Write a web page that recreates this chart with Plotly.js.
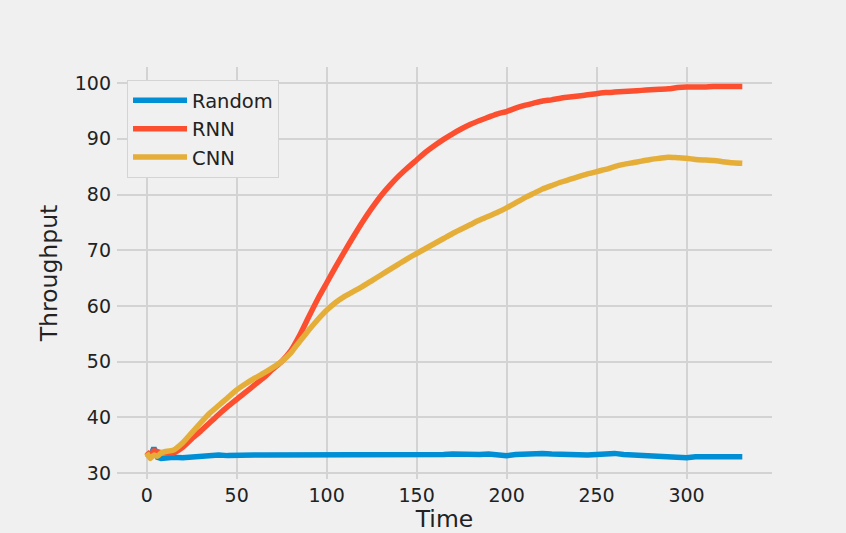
<!DOCTYPE html>
<html>
<head>
<meta charset="utf-8">
<script src="https://cdn.plot.ly/plotly-3.0.1.min.js"></script>
<style>html,body{margin:0;padding:0;background:#f0f0f0;}</style>
</head>
<body>
<div id="chart" style="width:846px;height:533px;"></div>
<script>
const time = [0,2,4,6,8,10,15,20,25,30,35,40,45,50,55,60,65,70,75,80,85,90,95,100,105,110,115,120,125,130,135,140,145,150,155,160,165,170,175,180,185,190,195,200,205,210,215,220,225,230,235,240,245,250,255,260,265,270,275,280,285,290,295,300,305,310,315,320,325,331];

const randomVals = [33.4,33.0,34.5,32.8,32.6,32.7,32.8,32.7,32.8,33.1,33.2,33.2,33.1,33.2,33.2,33.2,33.2,33.2,33.1,33.2,33.2,33.2,33.2,33.3,33.3,33.3,33.2,33.3,33.2,33.3,33.2,33.3,33.2,33.3,33.3,33.2,33.3,33.4,33.3,33.2,33.3,33.4,33.3,33.1,33.3,33.4,33.5,33.5,33.4,33.3,33.2,33.3,33.2,33.3,33.4,33.5,33.3,33.2,33.1,33.0,32.9,32.8,32.8,32.7,32.9,32.9,32.8,32.9,32.8,32.9];

const rnnVals = [33.8,33.2,34.0,33.8,33.6,33.6,33.6,34.6,36.1,37.5,39.0,40.5,41.9,43.2,44.5,45.8,47.1,48.6,50.0,51.9,54.7,58.0,61.2,64.1,67.0,69.8,72.5,75.1,77.5,79.7,81.6,83.3,84.8,86.2,87.6,88.8,89.9,90.9,91.8,92.6,93.3,93.9,94.5,94.9,95.5,96.0,96.4,96.8,97.0,97.3,97.5,97.7,97.9,98.1,98.3,98.4,98.5,98.6,98.7,98.8,98.9,99.0,99.2,99.3,99.3,99.3,99.4,99.4,99.4,99.4];

const cnnVals = [33.6,32.6,33.2,33.0,33.6,33.8,34.1,35.4,37.2,39.0,40.7,42.1,43.5,44.9,46.0,47.0,47.9,48.9,50.0,51.5,53.6,55.6,57.5,59.2,60.6,61.7,62.6,63.5,64.5,65.5,66.5,67.5,68.5,69.4,70.3,71.2,72.1,73.0,73.8,74.6,75.4,76.1,76.8,77.6,78.5,79.4,80.2,81.0,81.6,82.2,82.7,83.2,83.7,84.1,84.5,85.0,85.4,85.7,86.0,86.3,86.5,86.7,86.6,86.5,86.3,86.2,86.1,85.9,85.7,85.6];

const seriesNames = ["Random","RNN","CNN"];
const seriesColors = ["#008fd5","#fc4f30","#e5ae38"];
const xTicks = [0,50,100,150,200,250,300];
const yTicks = [30,40,50,60,70,80,90,100];

const allVals = [randomVals, rnnVals, cnnVals];
const traces = allVals.map((v,i)=>({
  x: time, y: v, type:'scatter', mode:'lines', name: seriesNames[i],
  line:{color: seriesColors[i], width:5.5, shape: i===0 ? 'linear' : 'spline', smoothing:0.5}
}));

const font = {family:'"DejaVu Sans", sans-serif', color:'#222'};
const layout = {
  width:846, height:533,
  paper_bgcolor:'#f0f0f0', plot_bgcolor:'#f0f0f0',
  margin:{l:117, r:74, t:67, b:54},
  font:Object.assign({size:19}, font),
  showlegend:true,
  legend:{x:0.0153, y:0.968, xanchor:'left', yanchor:'top',
    bgcolor:'#f0f0f0', bordercolor:'#d4d4d4', borderwidth:1,
    font:Object.assign({size:19.5}, font), itemwidth:54, tracegroupgap:0},
  xaxis:{range:[-16.5,347.5], tickvals:xTicks, showgrid:true, gridcolor:'#d3d3d3', gridwidth:2,
    zeroline:false, showline:false, ticks:'', ticklabelstandoff:3, tickfont:Object.assign({size:19}, font),
    title:{text:'Time', font:Object.assign({size:23.5}, font), standoff:4}},
  yaxis:{range:[28.9,102.9], tickvals:yTicks, showgrid:true, gridcolor:'#d3d3d3', gridwidth:2,
    zeroline:false, showline:false, ticks:'', ticklabelstandoff:5, tickfont:Object.assign({size:19}, font),
    title:{text:'Throughput', font:Object.assign({size:23.5}, font), standoff:10}}
};
Plotly.newPlot('chart', traces, layout, {displayModeBar:false, staticPlot:true});
</script>
</body>
</html>
